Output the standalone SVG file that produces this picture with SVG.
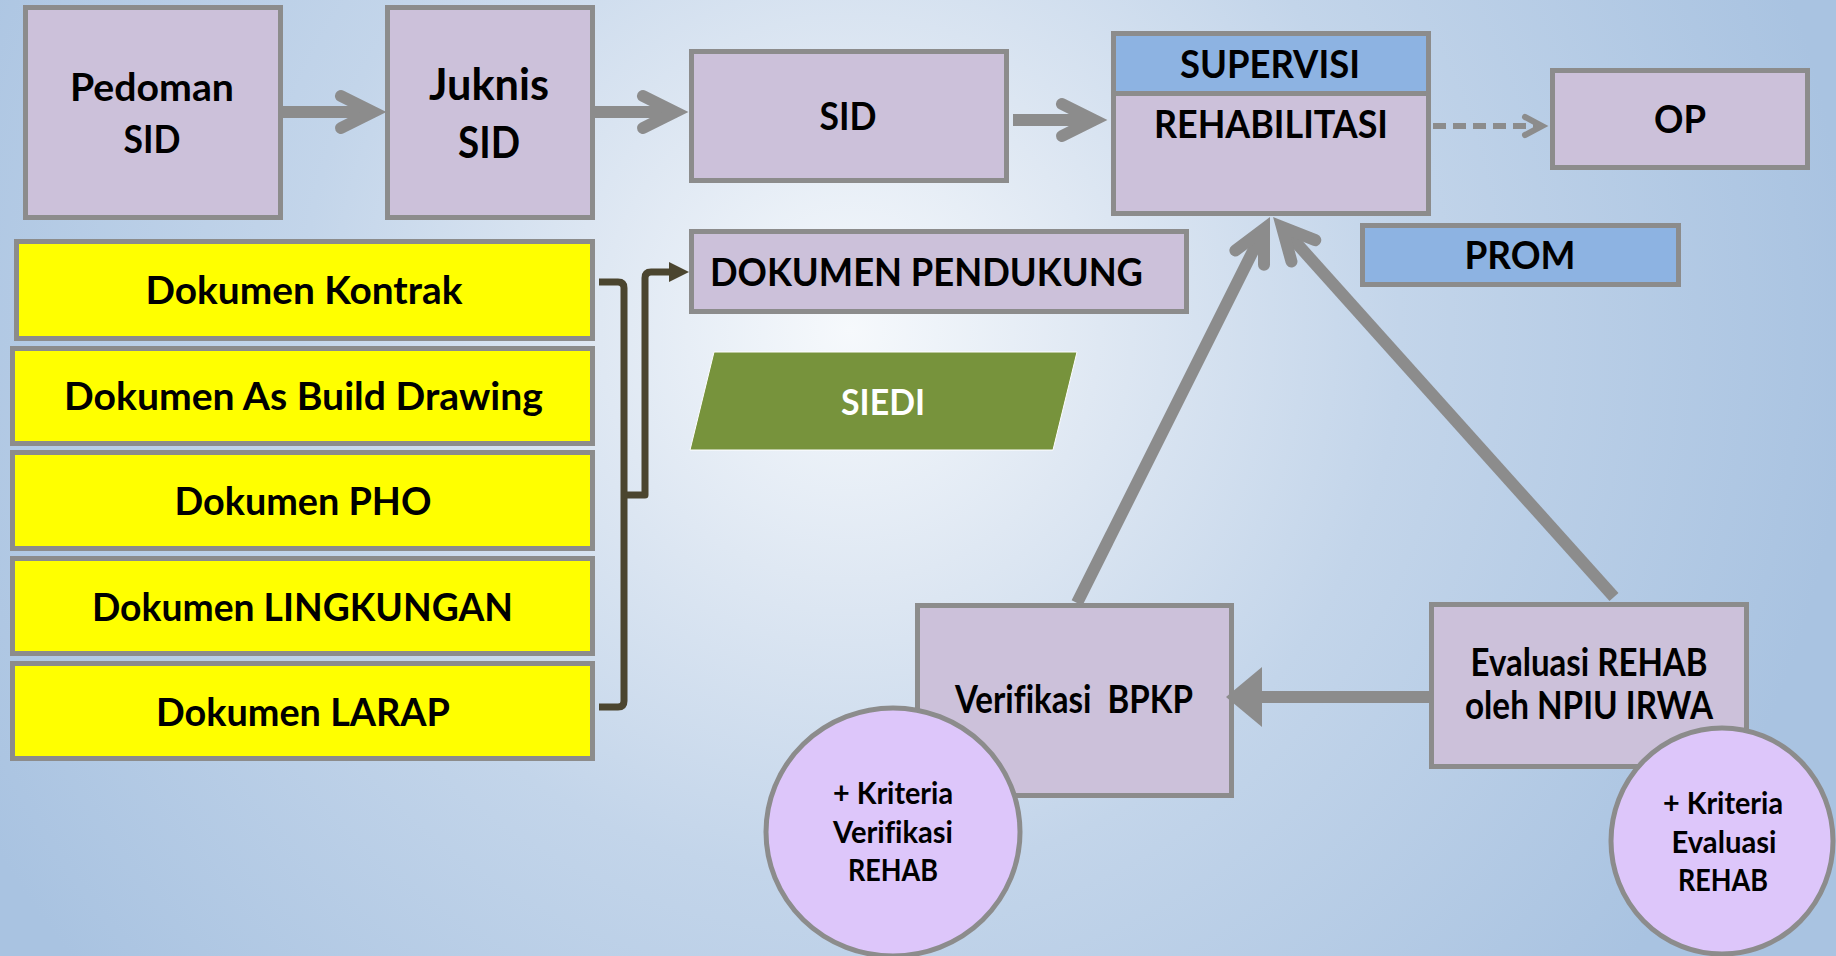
<svg xmlns="http://www.w3.org/2000/svg" width="1836" height="956" viewBox="0 0 1836 956">
<defs>
<radialGradient id="bg" gradientUnits="userSpaceOnUse" cx="850" cy="330" r="1000">
<stop offset="0" stop-color="#f6f9fc"/>
<stop offset="0.25" stop-color="#dfe8f3"/>
<stop offset="0.55" stop-color="#c3d5ea"/>
<stop offset="1" stop-color="#a9c3e1"/>
</radialGradient>
<marker id="chev" markerUnits="userSpaceOnUse" orient="auto" overflow="visible" markerWidth="10" markerHeight="10" refX="0" refY="0">
<path d="M -32 -16 L 0 0 L -32 16" fill="none" stroke="#8c8c8c" stroke-width="12" stroke-linecap="round" stroke-linejoin="miter"/>
</marker>
<marker id="chevS" markerUnits="userSpaceOnUse" orient="auto" overflow="visible" markerWidth="10" markerHeight="10" refX="0" refY="0">
<path d="M -17 -9 L 0 0 L -17 9" fill="none" stroke="#8c8c8c" stroke-width="6" stroke-linecap="round" stroke-linejoin="miter"/>
</marker>
<marker id="tri" markerUnits="userSpaceOnUse" orient="auto" overflow="visible" markerWidth="10" markerHeight="10" refX="0" refY="0">
<path d="M 0 -30 L 36 0 L 0 30 Z" fill="#8c8c8c"/>
</marker>
<marker id="triD" markerUnits="userSpaceOnUse" orient="auto" overflow="visible" markerWidth="10" markerHeight="10" refX="0" refY="0">
<path d="M 0 -10 L 20 0 L 0 10 Z" fill="#4b452f"/>
</marker>
</defs>
<style>
.box{fill:#ccc1da;stroke:#8c8c8c;stroke-width:5}
.blue{fill:#8db3e2;stroke:#8c8c8c;stroke-width:5}
.yel{fill:#ffff00;stroke:#8c8c8c;stroke-width:5}
.circ{fill:#ddc6fa;stroke:#8c8c8c;stroke-width:5}
.t{font-family:Lato,"Liberation Sans",sans-serif;font-weight:bold;font-size:39px;fill:#000;text-anchor:middle;font-variant-ligatures:none}
.tl{text-anchor:start}
.big{font-size:43px}
.sm{font-size:30px}
.w{fill:#ffffff;font-size:37px}
.ln{fill:none;stroke:#8c8c8c;stroke-width:12}
.br{fill:none;stroke:#4b452f;stroke-width:7;stroke-linejoin:round}
</style>
<rect x="0" y="0" width="1836" height="956" fill="url(#bg)"/>

<g id="pedoman">
<rect class="box" x="25.5" y="7.5" width="255" height="210"/>
<text class="t" x="152" y="101" textLength="164" lengthAdjust="spacingAndGlyphs">Pedoman</text>
<text class="t" x="152" y="153" textLength="57" lengthAdjust="spacingAndGlyphs">SID</text>
</g>
<g id="juknis">
<rect class="box" x="387.5" y="7.5" width="205" height="210"/>
<text class="t big" x="489" y="100" textLength="120" lengthAdjust="spacingAndGlyphs">Juknis</text>
<text class="t big" x="489" y="158" textLength="62" lengthAdjust="spacingAndGlyphs">SID</text>
</g>
<g id="sid">
<rect class="box" x="691.5" y="51.5" width="315" height="129"/>
<text class="t" x="848" y="130" textLength="57" lengthAdjust="spacingAndGlyphs">SID</text>
</g>
<g id="rehabilitasi">
<rect class="box" x="1113.5" y="33.5" width="315" height="180"/>
<rect class="blue" x="1113.5" y="33.5" width="315" height="60"/>
<text class="t" x="1270" y="78" textLength="180" lengthAdjust="spacingAndGlyphs">SUPERVISI</text>
<text class="t" x="1271" y="138" textLength="234" lengthAdjust="spacingAndGlyphs">REHABILITASI</text>
</g>
<g id="op">
<rect class="box" x="1552.5" y="70.5" width="255" height="97"/>
<text class="t" x="1680" y="133" textLength="52" lengthAdjust="spacingAndGlyphs">OP</text>
</g>
<g id="prom">
<rect class="blue" x="1362.5" y="225.5" width="316" height="59"/>
<text class="t" x="1520" y="269" textLength="111" lengthAdjust="spacingAndGlyphs">PROM</text>
</g>
<g id="dokumen-pendukung">
<rect class="box" x="691.5" y="231.5" width="495" height="80"/>
<text class="t tl" x="710" y="286" textLength="433" lengthAdjust="spacingAndGlyphs">DOKUMEN PENDUKUNG</text>
</g>
<g id="siedi">
<polygon points="714,352 1077,352 1053,450 690,450" fill="#77933c" stroke="#ffffff" stroke-width="1"/>
<text class="t w" x="883" y="415" textLength="84" lengthAdjust="spacingAndGlyphs">SIEDI</text>
</g>
<g id="dok-kontrak">
<rect class="yel" x="16.5" y="241.5" width="576" height="97"/>
<text class="t" x="304" y="304" textLength="317" lengthAdjust="spacingAndGlyphs">Dokumen Kontrak</text>
</g>
<g id="dok-asbuild">
<rect class="yel" x="12.5" y="348.5" width="580" height="95"/>
<text class="t" x="303.5" y="410" textLength="479" lengthAdjust="spacingAndGlyphs">Dokumen As Build Drawing</text>
</g>
<g id="dok-pho">
<rect class="yel" x="12.5" y="452.5" width="580" height="96"/>
<text class="t" x="303" y="515" textLength="257" lengthAdjust="spacingAndGlyphs">Dokumen PHO</text>
</g>
<g id="dok-lingkungan">
<rect class="yel" x="12.5" y="558.5" width="580" height="95"/>
<text class="t" x="302.5" y="620.5" textLength="421" lengthAdjust="spacingAndGlyphs">Dokumen LINGKUNGAN</text>
</g>
<g id="dok-larap">
<rect class="yel" x="12.5" y="663.5" width="580" height="95"/>
<text class="t" x="303" y="725.5" textLength="294" lengthAdjust="spacingAndGlyphs">Dokumen LARAP</text>
</g>
<g id="verifikasi">
<rect class="box" x="917.5" y="605.5" width="314" height="190"/>
<text class="t" x="1074" y="713" textLength="238" lengthAdjust="spacingAndGlyphs" xml:space="preserve">Verifikasi  BPKP</text>
</g>
<g id="evaluasi">
<rect class="box" x="1431.5" y="604.5" width="315" height="162"/>
<text class="t" x="1589" y="676" textLength="237" lengthAdjust="spacingAndGlyphs">Evaluasi REHAB</text>
<text class="t" x="1589" y="719" textLength="248" lengthAdjust="spacingAndGlyphs">oleh NPIU IRWA</text>
</g>
<g id="kriteria-verifikasi">
<ellipse class="circ" cx="893" cy="832" rx="127" ry="124"/>
<text class="t sm" x="893" y="804" textLength="120" lengthAdjust="spacingAndGlyphs">+ Kriteria</text>
<text class="t sm" x="893" y="843" textLength="120" lengthAdjust="spacingAndGlyphs">Verifikasi</text>
<text class="t sm" x="893" y="881" textLength="90" lengthAdjust="spacingAndGlyphs">REHAB</text>
</g>
<g id="kriteria-evaluasi">
<ellipse class="circ" cx="1722" cy="841" rx="111" ry="113"/>
<text class="t sm" x="1723" y="814" textLength="120" lengthAdjust="spacingAndGlyphs">+ Kriteria</text>
<text class="t sm" x="1724" y="853" textLength="105" lengthAdjust="spacingAndGlyphs">Evaluasi</text>
<text class="t sm" x="1723" y="891" textLength="90" lengthAdjust="spacingAndGlyphs">REHAB</text>
</g>

<g id="connectors">
<line class="ln" x1="283" y1="112" x2="373" y2="112" marker-end="url(#chev)"/>
<line class="ln" x1="595" y1="112" x2="675" y2="112" marker-end="url(#chev)"/>
<line class="ln" x1="1013" y1="120" x2="1094" y2="120" marker-end="url(#chev)"/>
<line x1="1433" y1="126" x2="1542" y2="126" stroke="#8c8c8c" stroke-width="6" stroke-dasharray="13 7" marker-end="url(#chevS)"/>
<line class="ln" x1="1077" y1="603" x2="1264" y2="229" marker-end="url(#chev)"/>
<line class="ln" x1="1614" y1="597" x2="1282" y2="227" marker-end="url(#chev)"/>
<line class="ln" x1="1429" y1="697" x2="1262" y2="697" marker-end="url(#tri)"/>
<path class="br" d="M 599 282 H 618 Q 624 282 624 288 V 701 Q 624 707 618 707 H 599"/>
<path class="br" d="M 624 495 H 645 V 278 Q 645 272 651 272 H 669" marker-end="url(#triD)"/>
</g>
</svg>
